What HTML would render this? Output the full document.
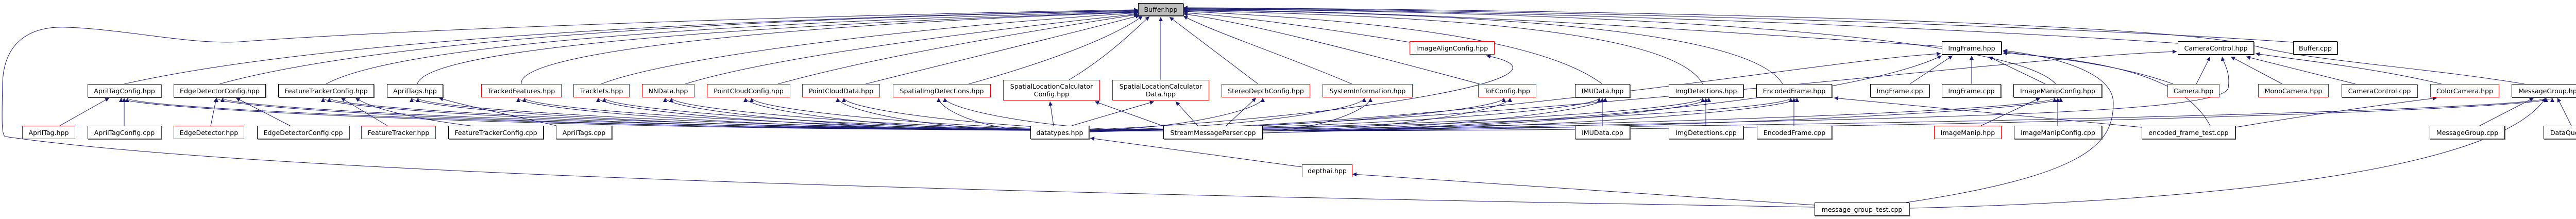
<!DOCTYPE html>
<html><head><meta charset="utf-8"><style>
html,body{margin:0;padding:0}
body{width:5065px;height:425px;background:#fff;position:relative;overflow:hidden;font-family:"DejaVu Sans","Liberation Sans",sans-serif}
svg{position:absolute;left:0;top:0}
.n{position:absolute;box-sizing:border-box;border:1px solid #000;box-shadow:1px 1px 0 #555;background:#fff;display:flex;align-items:center;justify-content:center;text-align:center;font-size:12.6px;line-height:15px;color:#000;white-space:nowrap;overflow:visible}
.r{border-color:#f00;box-shadow:none}
.g{background:#bfbfbf}
</style></head><body>
<svg width="5065" height="425" viewBox="0 0 5065 425">
<defs><marker id="a" viewBox="0 0 10 10" refX="10" refY="5" markerWidth="9" markerHeight="8" orient="auto" markerUnits="userSpaceOnUse"><path d="M0,0 L10,5 L0,10z" fill="#191970"/></marker></defs>
<g fill="none" stroke="#191970" stroke-width="1" marker-end="url(#a)">
<path d="M241,163 C700,60 1700,30 2209,20"/>
<path d="M426,163 C800,60 1700,30 2209,21"/>
<path d="M633,163 C800,70 1700,35 2209,22"/>
<path d="M810,163 C830,80 1700,40 2209,23"/>
<path d="M1012,163 C1000,90 1700,40 2209,24"/>
<path d="M1167,163 C1300,110 1800,50 2209,25"/>
<path d="M1330,163 C1500,110 1900,60 2209,27"/>
<path d="M1510,163 C1700,110 2000,60 2209,28"/>
<path d="M1680,163 C1850,120 2100,60 2212,30"/>
<path d="M1880,163 C2000,130 2150,80 2218,31"/>
<path d="M2075,155 C2150,110 2200,60 2231,32"/>
<path d="M2253,155 L2253,33"/>
<path d="M2442,163 L2270,33"/>
<path d="M2624,163 C2500,110 2350,60 2297,31"/>
<path d="M2872,163 C2600,90 2400,40 2297,27"/>
<path d="M2736,82 C2600,60 2400,30 2297,25"/>
<path d="M3110,163 C3000,80 2700,40 2297,22"/>
<path d="M3305,163 C3250,60 2800,30 2297,21"/>
<path d="M3460,163 C3400,60 2900,25 2297,20"/>
<path d="M3769,90 C3300,60 2800,22 2297,19"/>
<path d="M3990,163 C3900,60 3000,20 2297,18"/>
<path d="M4227,84 C3800,55 3000,20 2297,17"/>
<path d="M4451,82 C4000,50 3000,18 2297,16"/>
<path d="M4900,163 C4700,130 4500,120 4380,90 C4200,40 3000,18 2297,15"/>
<path d="M3522,402 C2500,385 600,350 10,265 C2,262 4,220 5,160 C8,80 60,50 130,53 C250,57 380,90 480,80 C900,50 1800,25 2209,19"/>
<path d="M116,244 L212,190"/>
<path d="M241,244 L241,190"/>
<path d="M409,244 L420,190"/>
<path d="M563,244 L458,190"/>
<path d="M752,244 L662,190"/>
<path d="M913,244 C800,230 720,210 690,190"/>
<path d="M1080,244 C1000,225 900,205 852,190"/>
<path d="M3110,244 L3110,190"/>
<path d="M3311,244 L3311,190"/>
<path d="M3482,244 L3482,190"/>
<path d="M3707,163 L3790,108"/>
<path d="M3827,163 L3827,108"/>
<path d="M3970,163 L3860,110"/>
<path d="M3845,244 L3960,190"/>
<path d="M3994,244 L3994,190"/>
<path d="M4218,163 C4100,120 3950,110 3888,100"/>
<path d="M4263,163 L4290,110"/>
<path d="M4430,163 L4330,110"/>
<path d="M4572,163 L4360,110"/>
<path d="M4739,163 C4600,130 4450,115 4378,104"/>
<path d="M4813,244 L4918,190"/>
<path d="M4991,244 L4964,190"/>
<path d="M4157,247 L3560,190"/>
<path d="M4339,247 C4500,220 4650,200 4730,190"/>
<path d="M4290,244 C4250,170 4150,120 3888,103"/>
<path d="M3700,393 C4050,340 4102,280 4102,200 C4102,130 3950,105 3888,98"/>
<path d="M3706,404 C4300,390 4850,330 4941,190"/>
<path d="M3522,398 L2625,338"/>
<path d="M2527,324 L2116,268"/>
<path d="M2000,252 C1118,252 235,213 235,190"/>
<path d="M2000,252 C1210,252 420,213 420,190"/>
<path d="M2000,252 C1314,252 627,213 627,190"/>
<path d="M2000,252 C1400,252 799,213 799,190"/>
<path d="M2000,252 C1503,252 1006,213 1006,190"/>
<path d="M2000,252 C1581,252 1161,213 1161,190"/>
<path d="M2000,252 C1646,252 1291,213 1291,190"/>
<path d="M2000,252 C1724,252 1447,213 1447,190"/>
<path d="M2000,252 C1813,252 1626,213 1626,190"/>
<path d="M2000,252 C1911,252 1822,213 1822,190"/>
<path d="M2045,244 L2038,197"/>
<path d="M2080,244 L2240,197"/>
<path d="M2114,252 C2283,252 2451,213 2451,190"/>
<path d="M2114,252 C2381,252 2648,213 2648,190"/>
<path d="M2114,252 C2517,252 2919,213 2919,190"/>
<path d="M2114,252 C2609,252 3104,213 3104,190"/>
<path d="M2114,252 C2710,252 3305,213 3305,190"/>
<path d="M2114,252 C2795,252 3476,213 3476,190"/>
<path d="M2114,252 C3051,252 3988,213 3988,190"/>
<path d="M2114,252 C3528,252 4942,213 4942,190"/>
<path d="M2114,252 C2600,230 3100,150 2885,108"/>
<path d="M2114,255 C2900,240 3500,120 3767,104"/>
<path d="M2114,256 C3000,235 3900,110 4225,100"/>
<path d="M2258,254 C1252,254 247,213 247,190"/>
<path d="M2258,254 C1345,254 432,213 432,190"/>
<path d="M2258,254 C1448,254 639,213 639,190"/>
<path d="M2258,254 C1534,254 811,213 811,190"/>
<path d="M2258,254 C1638,254 1018,213 1018,190"/>
<path d="M2258,254 C1715,254 1173,213 1173,190"/>
<path d="M2258,254 C1780,254 1303,213 1303,190"/>
<path d="M2258,254 C1858,254 1459,213 1459,190"/>
<path d="M2258,254 C1948,254 1638,213 1638,190"/>
<path d="M2258,254 C2046,254 1834,213 1834,190"/>
<path d="M2262,246 L2125,197"/>
<path d="M2325,244 L2282,197"/>
<path d="M2380,244 L2438,190"/>
<path d="M2451,254 C2555,254 2660,213 2660,190"/>
<path d="M2451,254 C2691,254 2931,213 2931,190"/>
<path d="M2451,254 C2783,254 3116,213 3116,190"/>
<path d="M2451,254 C2884,254 3317,213 3317,190"/>
<path d="M2451,254 C2969,254 3488,213 3488,190"/>
<path d="M2451,254 C3225,254 4000,213 4000,190"/>
<path d="M2451,254 C3702,254 4954,213 4954,190"/>
<path d="M2451,258 C3000,245 3600,190 3769,108"/>
<path d="M2451,258 C3500,230 4320,230 4325,170 C4330,140 4315,120 4313,110"/>
</g>
</svg>
<div class="n g" style="left:2209px;top:6px;width:88px;height:25px">Buffer.hpp</div>
<div class="n r" style="left:2736px;top:80px;width:165px;height:26px">ImageAlignConfig.hpp</div>
<div class="n" style="left:3769px;top:80px;width:116px;height:26px">ImgFrame.hpp</div>
<div class="n" style="left:4227px;top:80px;width:148px;height:26px">CameraControl.hpp</div>
<div class="n" style="left:4451px;top:80px;width:86px;height:26px">Buffer.cpp</div>

<div class="n" style="left:170px;top:163px;width:143px;height:26px">AprilTagConfig.hpp</div>
<div class="n" style="left:337px;top:163px;width:179px;height:26px">EdgeDetectorConfig.hpp</div>
<div class="n" style="left:540px;top:163px;width:186px;height:26px">FeatureTrackerConfig.hpp</div>
<div class="n" style="left:751px;top:163px;width:109px;height:26px">AprilTags.hpp</div>
<div class="n r" style="left:934px;top:163px;width:156px;height:26px">TrackedFeatures.hpp</div>
<div class="n r" style="left:1113px;top:163px;width:109px;height:26px">Tracklets.hpp</div>
<div class="n r" style="left:1246px;top:163px;width:102px;height:26px">NNData.hpp</div>
<div class="n r" style="left:1372px;top:163px;width:162px;height:26px">PointCloudConfig.hpp</div>
<div class="n r" style="left:1557px;top:163px;width:151px;height:26px">PointCloudData.hpp</div>
<div class="n r" style="left:1733px;top:163px;width:190px;height:26px">SpatialImgDetections.hpp</div>
<div class="n r" style="left:1947px;top:155px;width:188px;height:40px">SpatialLocationCalculator<br>Config.hpp</div>
<div class="n r" style="left:2159px;top:155px;width:188px;height:40px">SpatialLocationCalculator<br>Data.hpp</div>
<div class="n r" style="left:2371px;top:163px;width:172px;height:26px">StereoDepthConfig.hpp</div>
<div class="n r" style="left:2567px;top:163px;width:175px;height:26px">SystemInformation.hpp</div>
<div class="n r" style="left:2869px;top:163px;width:113px;height:26px">ToFConfig.hpp</div>
<div class="n" style="left:3057px;top:163px;width:107px;height:26px">IMUData.hpp</div>
<div class="n" style="left:3239px;top:163px;width:145px;height:26px">ImgDetections.hpp</div>
<div class="n" style="left:3409px;top:163px;width:147px;height:26px">EncodedFrame.hpp</div>
<div class="n" style="left:3630px;top:163px;width:115px;height:26px">ImgFrame.cpp</div>
<div class="n" style="left:3769px;top:163px;width:115px;height:26px">ImgFrame.cpp</div>
<div class="n" style="left:3908px;top:163px;width:172px;height:26px">ImageManipConfig.hpp</div>
<div class="n r" style="left:4207px;top:163px;width:101px;height:26px">Camera.hpp</div>
<div class="n r" style="left:4383px;top:163px;width:137px;height:26px">MonoCamera.hpp</div>
<div class="n" style="left:4545px;top:163px;width:147px;height:26px">CameraControl.cpp</div>
<div class="n r" style="left:4717px;top:163px;width:134px;height:26px">ColorCamera.hpp</div>
<div class="n" style="left:4875px;top:163px;width:148px;height:26px">MessageGroup.hpp</div>

<div class="n r" style="left:43px;top:244px;width:103px;height:26px">AprilTag.hpp</div>
<div class="n" style="left:170px;top:244px;width:143px;height:26px">AprilTagConfig.cpp</div>
<div class="n r" style="left:337px;top:244px;width:137px;height:26px">EdgeDetector.hpp</div>
<div class="n" style="left:499px;top:244px;width:179px;height:26px">EdgeDetectorConfig.cpp</div>
<div class="n r" style="left:701px;top:244px;width:145px;height:26px">FeatureTracker.hpp</div>
<div class="n" style="left:870px;top:244px;width:185px;height:26px">FeatureTrackerConfig.cpp</div>
<div class="n" style="left:1079px;top:244px;width:109px;height:26px">AprilTags.cpp</div>
<div class="n" style="left:2000px;top:244px;width:114px;height:26px">datatypes.hpp</div>
<div class="n" style="left:2258px;top:244px;width:193px;height:26px">StreamMessageParser.cpp</div>
<div class="n" style="left:3057px;top:244px;width:107px;height:26px">IMUData.cpp</div>
<div class="n" style="left:3239px;top:244px;width:145px;height:26px">ImgDetections.cpp</div>
<div class="n" style="left:3410px;top:244px;width:146px;height:26px">EncodedFrame.cpp</div>
<div class="n r" style="left:3754px;top:244px;width:131px;height:26px">ImageManip.hpp</div>
<div class="n" style="left:3909px;top:244px;width:171px;height:26px">ImageManipConfig.cpp</div>
<div class="n" style="left:4157px;top:244px;width:182px;height:26px">encoded_frame_test.cpp</div>
<div class="n" style="left:4716px;top:244px;width:146px;height:26px">MessageGroup.cpp</div>
<div class="n" style="left:4937px;top:244px;width:124px;height:26px">DataQueue.cpp</div>

<div class="n r" style="left:2527px;top:319px;width:98px;height:25px">depthai.hpp</div>
<div class="n" style="left:3522px;top:393px;width:184px;height:26px">message_group_test.cpp</div>
</body></html>
